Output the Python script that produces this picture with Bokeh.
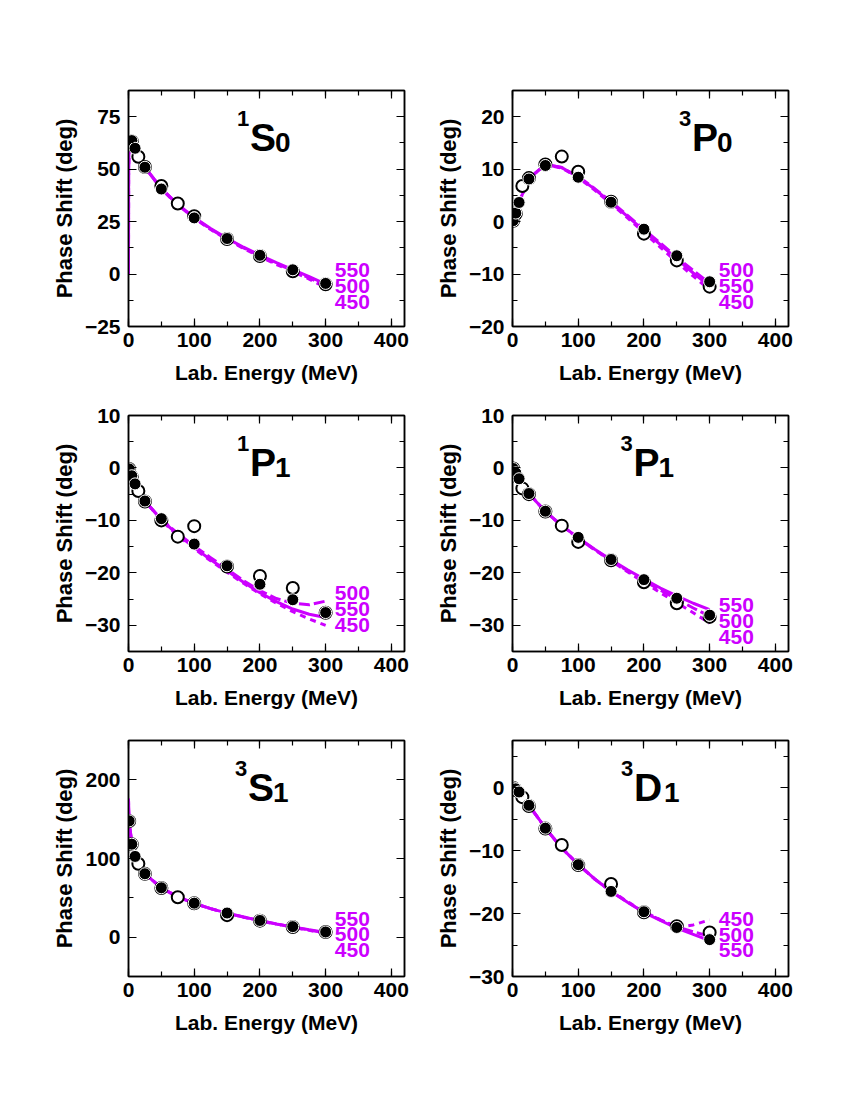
from bokeh.plotting import figure
from bokeh.models import LinearAxis, SingleIntervalTicker, Range1d
from bokeh.layouts import column, row
from bokeh.embed import file_html
from bokeh.resources import INLINE
from bokeh.core.properties import value

FONT = "Liberation Sans"
MAG = "#CC00FF"

# ---------------- data ----------------
# Nijmegen PWA (filled circles)
E_NIJ = [1, 5, 10, 25, 50, 100, 150, 200, 250, 300]
NIJ_1S0 = [62.07, 63.63, 59.96, 50.90, 40.54, 26.78, 16.94, 8.94, 2.03, -4.46]
NIJ_3P0 = [0.18, 1.63, 3.65, 8.13, 10.70, 8.46, 3.69, -1.44, -6.51, -11.47]
NIJ_1P1 = [-0.19, -1.49, -3.04, -6.31, -9.67, -14.52, -18.65, -22.18, -25.13, -27.58]
NIJ_3P1 = [-0.11, -0.94, -2.06, -4.88, -8.25, -13.24, -17.46, -21.30, -24.84, -28.07]
NIJ_3S1 = [147.75, 118.18, 102.61, 80.63, 62.77, 43.23, 30.72, 21.22, 13.39, 6.60]
NIJ_3D1 = [-0.01, -0.18, -0.68, -2.80, -6.43, -12.23, -16.48, -19.71, -22.21, -24.14]

# VPI/GWU analysis (open circles)
E_VPI = [1, 5, 15, 25, 50, 75, 100, 150, 200, 250, 300]
VPI_1S0 = [61.8, 63.2, 55.9, 51.0, 42.0, 33.6, 27.6, 16.7, 8.6, 1.3, -4.9]
VPI_3P0 = [0.15, 1.5, 6.8, 8.3, 10.9, 12.4, 9.5, 3.8, -2.3, -7.4, -12.4]
VPI_1P1 = [-0.2, -1.7, -4.4, -6.4, -10.0, -13.1, -11.1, -18.8, -20.6, -22.9, -27.6]
VPI_3P1 = [-0.1, -1.5, -3.9, -5.0, -8.3, -11.0, -14.1, -17.6, -21.8, -25.8, -28.4]
VPI_3S1 = [147.5, 118.0, 93.3, 80.5, 62.5, 50.8, 43.0, 28.0, 21.0, 13.0, 6.5]
VPI_3D1 = [0.0, -0.4, -1.5, -2.9, -6.5, -9.1, -12.3, -15.3, -19.8, -22.0, -23.0]

# model curves, cutoff 450 / 500 / 550 MeV
E_CURVE = [0, 0.2, 1, 5, 10, 25, 50, 75, 100, 125, 150, 175, 200, 225, 250, 275, 300]
C_1S0 = {
    "550": [0, 50, 62.1, 63.6, 60.0, 50.9, 40.8, 33.2, 27.0, 21.7, 17.0, 12.8, 9.0, 5.4, 2.1, -1.2, -4.8],
    "500": [0, 50, 62.1, 63.6, 60.0, 50.9, 40.7, 33.0, 26.8, 21.4, 16.7, 12.5, 8.6, 5.0, 1.6, -1.8, -5.6],
    "450": [0, 50, 62.1, 63.6, 60.0, 50.9, 40.6, 32.9, 26.6, 21.2, 16.5, 12.2, 8.3, 4.6, 1.1, -2.4, -6.4],
}
C_3P0 = {
    "550": [0, 0.02, 0.18, 1.6, 3.7, 8.2, 10.9, 10.3, 8.5, 6.2, 3.6, 1.0, -1.7, -4.4, -7.1, -9.8, -12.3],
    "500": [0, 0.02, 0.18, 1.6, 3.7, 8.2, 10.9, 10.3, 8.6, 6.3, 3.8, 1.2, -1.5, -4.1, -6.8, -9.3, -11.8],
    "450": [0, 0.02, 0.18, 1.6, 3.7, 8.2, 10.9, 10.2, 8.4, 6.0, 3.4, 0.7, -2.1, -4.9, -7.7, -10.4, -13.0],
}
C_1P1 = {
    "550": [0, -0.01, -0.19, -1.5, -3.0, -6.3, -9.9, -12.7, -15.2, -17.5, -19.6, -21.8, -23.8, -25.5, -26.9, -27.9, -28.5],
    "500": [0, -0.01, -0.19, -1.5, -3.0, -6.3, -9.8, -12.5, -14.9, -17.1, -19.3, -21.5, -23.4, -24.9, -25.8, -26.1, -25.4],
    "450": [0, -0.01, -0.19, -1.5, -3.0, -6.3, -10.0, -12.9, -15.4, -17.7, -19.9, -22.0, -24.0, -25.8, -27.4, -28.8, -30.0],
}
C_3P1 = {
    "550": [0, -0.01, -0.11, -0.9, -2.0, -4.9, -8.3, -11.0, -13.3, -15.5, -17.5, -19.4, -21.2, -22.9, -24.4, -25.8, -27.0],
    "500": [0, -0.01, -0.11, -0.9, -2.0, -4.9, -8.3, -11.0, -13.4, -15.6, -17.6, -19.6, -21.5, -23.3, -25.0, -26.7, -28.3],
    "450": [0, -0.01, -0.11, -0.9, -2.0, -4.9, -8.3, -11.0, -13.4, -15.6, -17.7, -19.8, -21.8, -23.8, -25.7, -27.6, -29.6],
}
C_3S1 = {
    "550": [176, 165, 147.7, 118.2, 102.6, 80.6, 62.6, 51.3, 43.0, 36.3, 30.6, 25.6, 21.0, 16.9, 13.1, 9.5, 6.0],
    "500": [176, 165, 147.7, 118.2, 102.6, 80.6, 62.6, 51.3, 43.0, 36.3, 30.6, 25.6, 21.0, 16.8, 12.9, 9.1, 5.2],
    "450": [176, 165, 147.7, 118.2, 102.6, 80.6, 62.6, 51.3, 43.0, 36.2, 30.5, 25.4, 20.8, 16.6, 12.6, 8.6, 4.5],
}
C_3D1 = {
    "550": [0, 0, -0.01, -0.18, -0.68, -2.8, -6.4, -9.6, -12.2, -14.5, -16.5, -18.2, -19.8, -21.1, -22.3, -23.3, -24.3],
    "500": [0, 0, -0.01, -0.18, -0.68, -2.8, -6.4, -9.6, -12.2, -14.5, -16.5, -18.2, -19.8, -21.0, -22.1, -22.9, -23.6],
    "450": [0, 0, -0.01, -0.18, -0.68, -2.8, -6.4, -9.6, -12.2, -14.5, -16.4, -18.1, -19.7, -21.0, -22.2, -21.8, -21.0],
}

CUTOFFS = ["450", "500", "550"]
DASH = {"550": "solid", "500": "11 4", "450": "6 5"}

# label stacks beside the curve ends (text, y)
LBL_1S0 = (["550", "500", "450"], [1.9, -5.7, -13.3])
LBL_3P0 = (["500", "550", "450"], [-9.2, -12.2, -15.3])
LBL_1P1 = (["500", "550", "450"], [-23.8, -26.9, -30.0])
LBL_3P1 = (["550", "500", "450"], [-26.1, -29.1, -32.2])
LBL_3S1 = (["550", "500", "450"], [23.4, 3.4, -16.9])
LBL_3D1 = (["450", "500", "550"], [-20.9, -23.4, -25.8])
LBL_X = 314

XR = (0, 420)
FW, FH = 276, 236

PANELS = [
    dict(sup="1", main="S", sub="0", yr=(-25, 87.5), step=25, tx=185,
         nij=NIJ_1S0, vpi=VPI_1S0, cur=C_1S0, lbl=LBL_1S0),
    dict(sup="3", main="P", sub="0", yr=(-20, 25), step=10, tx=273,
         nij=NIJ_3P0, vpi=VPI_3P0, cur=C_3P0, lbl=LBL_3P0),
    dict(sup="1", main="P", sub="1", yr=(-35, 10), step=10, tx=185,
         nij=NIJ_1P1, vpi=VPI_1P1, cur=C_1P1, lbl=LBL_1P1),
    dict(sup="3", main="P", sub="1", yr=(-35, 10), step=10, tx=184,
         nij=NIJ_3P1, vpi=VPI_3P1, cur=C_3P1, lbl=LBL_3P1),
    dict(sup="3", main="S", sub="1", yr=(-50, 250), step=100, tx=182,
         nij=NIJ_3S1, vpi=VPI_3S1, cur=C_3S1, lbl=LBL_3S1),
    dict(sup="3", main="D", sub="1", yr=(-30, 7.5), step=10, tx=185,
         nij=NIJ_3D1, vpi=VPI_3D1, cur=C_3D1, lbl=LBL_3D1),
]
LETTER_W = {"S": 25, "P": 25, "D": 30}


def style_axis(ax, show_labels=True, label_size="21px"):
    ax.axis_line_color = "black"
    ax.axis_line_width = 1.5
    ax.major_tick_in = 8
    ax.major_tick_out = 0
    ax.minor_tick_in = 5
    ax.minor_tick_out = 0
    ax.major_tick_line_color = "black"
    ax.minor_tick_line_color = "black"
    ax.major_tick_line_width = 1.2
    ax.minor_tick_line_width = 1.2
    if show_labels:
        ax.major_label_text_font = FONT
        ax.major_label_text_font_style = "bold"
        ax.major_label_text_font_size = "21px"
        ax.major_label_text_color = "black"
        ax.axis_label_text_font = FONT
        ax.axis_label_text_font_style = "bold"
        ax.axis_label_text_font_size = label_size
        ax.axis_label_text_color = "black"
    else:
        ax.major_label_text_font_size = "0px"
        ax.major_label_text_alpha = 0
        ax.major_label_standoff = 0


def txt(p, x, y, s, size, align="left", baseline="middle", color="black"):
    p.text(x=[x], y=[y], text=[s], text_font=value(FONT), text_font_style="bold",
           text_font_size=size, text_color=color, text_align=align,
           text_baseline=baseline)


def make_panel(cfg, col, rowi):
    lo, hi = cfg["yr"]
    p = figure(frame_width=FW, frame_height=FH,
               x_range=Range1d(*XR), y_range=Range1d(lo, hi),
               output_backend="svg", toolbar_location=None,
               min_border_left=128 if col == 0 else 88,
               min_border_right=20 if col == 0 else 30,
               min_border_top=90 if rowi == 0 else 29,
               min_border_bottom=60,
               background_fill_color="white", border_fill_color="white")
    p.xgrid.visible = False
    p.ygrid.visible = False
    p.outline_line_color = "black"
    p.outline_line_width = 1.5

    p.xaxis.ticker = SingleIntervalTicker(interval=100, num_minor_ticks=2)
    p.yaxis.ticker = SingleIntervalTicker(interval=cfg["step"], num_minor_ticks=2)
    p.xaxis.axis_label = "Lab. Energy (MeV)"
    p.yaxis.axis_label = "Phase Shift (deg)"
    for ax in p.xaxis:
        style_axis(ax, label_size="21px")
        ax.major_label_standoff = 6
        ax.axis_label_standoff = 11
    for ax in p.yaxis:
        style_axis(ax, label_size="22px")
        ax.major_label_standoff = 8
        ax.axis_label_standoff = 5

    ra = LinearAxis(ticker=SingleIntervalTicker(interval=cfg["step"], num_minor_ticks=2))
    style_axis(ra, show_labels=False)
    p.add_layout(ra, "right")
    ta = LinearAxis(ticker=SingleIntervalTicker(interval=100, num_minor_ticks=2))
    style_axis(ta, show_labels=False)
    p.add_layout(ta, "above")

    for c in CUTOFFS:
        p.line(E_CURVE, cfg["cur"][c], line_color=MAG, line_width=3,
               line_dash=DASH[c], line_cap="butt")

    p.scatter(E_VPI, cfg["vpi"], marker="circle", size=12,
              fill_color="white", line_color="black", line_width=2)
    p.scatter(E_NIJ, cfg["nij"], marker="circle", size=12,
              fill_color="black", line_color="white", line_width=1)

    texts, ys = cfg["lbl"]
    p.text(x=[LBL_X] * len(texts), y=ys, text=texts,
           text_font=value(FONT), text_font_style="bold", text_font_size="21px",
           text_color=MAG, text_baseline="middle", text_align="left")

    # title: superscript, letter, subscript (positions as pixel offsets from frame top-left)
    xu = (XR[1] - XR[0]) / FW
    yu = (hi - lo) / FH
    tx = cfg["tx"]
    txt(p, tx, hi - 47 * yu, cfg["main"], "39px")
    txt(p, tx - 13 * xu, hi - 28 * yu, cfg["sup"], "22px")
    txt(p, tx + LETTER_W[cfg["main"]] * xu, hi - 52 * yu, cfg["sub"], "28px")
    return p


figs = [make_panel(cfg, i % 2, i // 2) for i, cfg in enumerate(PANELS)]
layout = column(row(figs[0], figs[1]), row(figs[2], figs[3]), row(figs[4], figs[5]))

open("out.html", "w").write(file_html(layout, INLINE))
